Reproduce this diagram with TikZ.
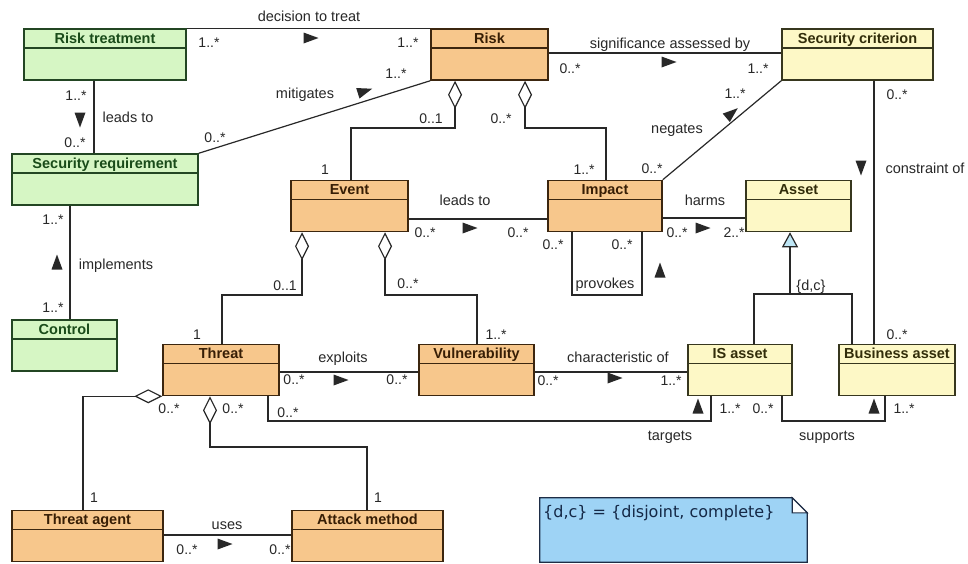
\documentclass[tikz,border=0pt]{standalone}
\usepackage{fontspec}
\setmainfont{Liberation Sans}
\newfontfamily\notefont{DejaVu Sans}
\usepackage{xcolor}
\usepackage{tikz}
\usetikzlibrary{arrows.meta}

\definecolor{greenfill}{RGB}{214,246,196}
\definecolor{greenline}{RGB}{35,70,35}
\definecolor{greentext}{RGB}{25,75,25}
\definecolor{orangefill}{RGB}{247,199,140}
\definecolor{orangeline}{RGB}{60,38,15}
\definecolor{orangetext}{RGB}{55,30,5}
\definecolor{yellowfill}{RGB}{253,248,198}
\definecolor{yellowline}{RGB}{55,55,30}
\definecolor{yellowtext}{RGB}{50,45,10}
\definecolor{notefill}{RGB}{158,211,245}
\definecolor{noteline}{RGB}{30,45,70}
\definecolor{notetext}{RGB}{20,40,70}
\definecolor{genfill}{RGB}{190,230,245}
\definecolor{linecol}{RGB}{40,40,40}

\newcommand{\clsfont}{\fontsize{14.5}{16}\selectfont\bfseries}
\newcommand{\lblfont}{\fontsize{14.5}{16}\selectfont}
\newcommand{\multfont}{\fontsize{14}{16}\selectfont}
% filled triangle telling the reading direction of an association
\newcommand{\dirmark}[3]{\fill[linecol, shift={(#1,#2)}, rotate=#3] (7.5,0) -- (-7.5,5.5) -- (-7.5,-5.5) -- cycle;}

\begin{document}
\begin{tikzpicture}[x=1pt, y=-1pt,
    cls/.style={draw=#1, line width=1.5pt, inner xsep=2pt, inner ysep=0pt,
      text height=14pt, text depth=37pt, font=\clsfont,
      path picture={\draw[#1, line width=1.5pt] ([yshift=-19pt]path picture bounding box.north west) -- ([yshift=-19pt]path picture bounding box.north east);}},
    greencls/.style={cls=greenline, fill=greenfill, text=greentext},
    orangecls/.style={cls=orangeline, fill=orangefill, text=orangetext},
    yellowcls/.style={cls=yellowline, fill=yellowfill, text=yellowtext},
    assoc/.style={draw=linecol, line width=1.2pt},
    agg/.style={assoc, arrows={Diamond[open, length=28pt, width=14pt]-}},
    gen/.style={assoc, arrows={-Triangle[length=15pt, width=16pt, fill=genfill]}},
    lbl/.style={font=\lblfont, text=linecol, inner sep=0pt, text height=10pt, text depth=3pt},
    mult/.style={font=\multfont, text=linecol, inner sep=0pt, text height=10pt, text depth=3pt}]

    \fill[white] (0,0) rectangle (968,563);
    \useasboundingbox (0,0) rectangle (968,563);

    % Treatment
    \node [greencls, minimum width=162] (rtreat) at (105,54.5) {Risk treatment};
    \node [greencls, minimum width=186] (secreq) at (105,179.5) {Security requirement};
    \node [greencls, minimum width=105] (control) at (64.5,345.5) {Control};

    % Risk
    \node [orangecls, minimum width=117] (risk) at (489.5,54.5) {Risk};
    \node [orangecls, minimum width=117] (event) at (349.5,206) {Event};
    \node [orangecls, minimum width=114] (impact) at (605,206) {Impact};
    \node [orangecls, minimum width=116] (threat) at (221,370) {Threat};
    \node [orangecls, minimum width=115] (vuln) at (476.5,370) {Vulnerability};
    \node [orangecls, minimum width=151] (tagent) at (87.5,536) {Threat agent};
    \node [orangecls, minimum width=151] (attack) at (367.5,536) {Attack method};

    % Assets
    \node [yellowcls, minimum width=151] (seccrit) at (857.5,54.5) {Security criterion};
    \node [yellowcls, minimum width=105] (asset) at (798.5,206) {Asset};
    \node [yellowcls, minimum width=104] (isasset) at (740,370) {IS asset};
    \node [yellowcls, minimum width=116] (busasset) at (897,370) {Business asset};

    % Associations
    \draw [assoc] (rtreat.north east) -- (risk.north west);
    \draw [assoc] (rtreat.south -| 94,0) -- (secreq.north -| 94,0);
    \draw [assoc] (secreq.north east) -- (risk.south west);
    \draw [assoc] (risk.east |- 0,53) -- (seccrit.west |- 0,53);
    \draw [assoc] (impact.north east) -- (seccrit.south west);
    \draw [assoc] (event.east |- 0,219) -- (impact.west |- 0,219);
    \draw [assoc] (impact.east |- 0,218) -- (asset.west |- 0,218);
    \draw [assoc] (impact.south -| 572,0) |- (642,295) -- (impact.south -| 642,0);
    \draw [assoc] (seccrit.south -| 874,0) -- (busasset.north -| 874,0);
    \draw [assoc] (secreq.south -| 70,0) -- (control.north -| 70,0);
    \draw [assoc] (threat.east |- 0,372) -- (vuln.west |- 0,372);
    \draw [assoc] (vuln.east |- 0,372) -- (isasset.west |- 0,372);
    \draw [assoc] (threat.south -| 268,0) |- (711,421) -- (isasset.south -| 711,0);
    \draw [assoc] (isasset.south -| 782,0) |- (885,421) -- (busasset.south -| 885,0);
    \draw [assoc] (tagent.east |- 0,535) -- (attack.west |- 0,535);

    % Aggregations
    \draw [agg] (risk.south -| 455,0) |- (351,128) -- (event.north -| 351,0);
    \draw [agg] (risk.south -| 525,0) |- (606,128) -- (impact.north -| 606,0);
    \draw [agg] (event.south -| 302,0) |- (222,295) -- (threat.north -| 222,0);
    \draw [agg] (event.south -| 385,0) |- (477,295) -- (vuln.north -| 477,0);
    \draw [agg] (threat.south west) -| (tagent.north -| 83,0);
    \draw [agg] (threat.south -| 210,0) |- (367,447) -- (attack.north -| 367,0);

    % Generalization
    \coordinate (genjoin) at (790,294);
    \draw [assoc] (isasset.north -| 754,0) -- (754,294) -- (852,294) -- (busasset.north -| 852,0);
    \draw [gen] (genjoin) -- (asset.south -| genjoin);

    % Reading directions
    \dirmark{311}{38}{0}
    \dirmark{80}{120}{270}
    \dirmark{365}{91}{17.6}
    \dirmark{669}{62}{0}
    \dirmark{732}{113}{40}
    \dirmark{470}{228}{0}
    \dirmark{703}{228}{0}
    \dirmark{660}{270}{90}
    \dirmark{861}{168}{270}
    \dirmark{57}{262}{90}
    \dirmark{341}{380}{0}
    \dirmark{615}{378}{0}
    \dirmark{698}{406}{90}
    \dirmark{874}{406}{90}
    \dirmark{225}{544}{0}

    % Labels
    \node [lbl] (ldecision) at (309,18) {decision to treat};
    \node [lbl] (lleads1) at (128,119) {leads to};
    \node [lbl] (lmitig) at (305,95) {mitigates};
    \node [lbl] (lsignif) at (670,45) {significance assessed by};
    \node [lbl] (lnegates) at (677,130) {negates};
    \node [lbl] (lconstr) at (925,170) {constraint of};
    \node [lbl] (lleads2) at (465,202) {leads to};
    \node [lbl] (lharms) at (705,202) {harms};
    \node [lbl] (lprovokes) at (605,285) {provokes};
    \node [lbl] (ldc) at (811,287) {\{d,c\}};
    \node [lbl] (limpl) at (116,266) {implements};
    \node [lbl] (lexploits) at (343,359) {exploits};
    \node [lbl] (lcharac) at (618,359) {characteristic of};
    \node [lbl] (ltargets) at (670,437) {targets};
    \node [lbl] (lsupports) at (827,437) {supports};
    \node [lbl] (luses) at (227,526) {uses};

    % Multiplicities
    \node [mult] (m1) at (209,44) {1..*};
    \node [mult] (m2) at (408,44) {1..*};
    \node [mult] (m3) at (76,97) {1..*};
    \node [mult] (m4) at (75,144) {0..*};
    \node [mult] (m5) at (215,139) {0..*};
    \node [mult] (m6) at (396,75) {1..*};
    \node [mult] (m7) at (570,70) {0..*};
    \node [mult] (m8) at (758,70) {1..*};
    \node [mult] (m9) at (431,120) {0..1};
    \node [mult] (m10) at (325,171) {1};
    \node [mult] (m11) at (501,120) {0..*};
    \node [mult] (m12) at (584,171) {1..*};
    \node [mult] (m13) at (735,95) {1..*};
    \node [mult] (m14) at (652,170) {0..*};
    \node [mult] (m15) at (897,96) {0..*};
    \node [mult] (m16) at (897,336) {0..*};
    \node [mult] (m17) at (425,234) {0..*};
    \node [mult] (m18) at (518,234) {0..*};
    \node [mult] (m19) at (553,246) {0..*};
    \node [mult] (m20) at (622,246) {0..*};
    \node [mult] (m21) at (677,234) {0..*};
    \node [mult] (m22) at (734,234) {2..*};
    \node [mult] (m23) at (285,287) {0..1};
    \node [mult] (m24) at (197,336) {1};
    \node [mult] (m25) at (408,285) {0..*};
    \node [mult] (m26) at (496,336) {1..*};
    \node [mult] (m27) at (294,381) {0..*};
    \node [mult] (m28) at (397,381) {0..*};
    \node [mult] (m29) at (548,382) {0..*};
    \node [mult] (m30) at (671,382) {1..*};
    \node [mult] (m31) at (288,414) {0..*};
    \node [mult] (m32) at (730,410) {1..*};
    \node [mult] (m33) at (763,410) {0..*};
    \node [mult] (m34) at (904,410) {1..*};
    \node [mult] (m35) at (169,410) {0..*};
    \node [mult] (m36) at (94,499) {1};
    \node [mult] (m37) at (233,410) {0..*};
    \node [mult] (m38) at (378,499) {1};
    \node [mult] (m39) at (187,551) {0..*};
    \node [mult] (m40) at (280,551) {0..*};
    \node [mult] (m41) at (53,221) {1..*};
    \node [mult] (m42) at (53,309) {1..*};

    % Note
    \node [minimum width=267, minimum height=64, inner sep=0pt] (notebox) at (673.5,530) {};
    \filldraw [fill=notefill, draw=noteline, line width=1.3pt]
      (notebox.north west) -- ([xshift=-15pt]notebox.north east) -- ([yshift=-15pt]notebox.north east)
      -- (notebox.south east) -- (notebox.south west) -- cycle;
    \filldraw [fill=white, draw=noteline, line width=1.1pt]
      ([xshift=-15pt]notebox.north east) -- ([xshift=-15pt,yshift=-15pt]notebox.north east)
      -- ([yshift=-15pt]notebox.north east) -- cycle;
    \node [font=\notefont\fontsize{16}{18}\selectfont, text=notetext, inner sep=0pt, anchor=base west]
      (notetext) at (543,517) {\{d,c\} = \{disjoint, complete\}};
\end{tikzpicture}
\end{document}
